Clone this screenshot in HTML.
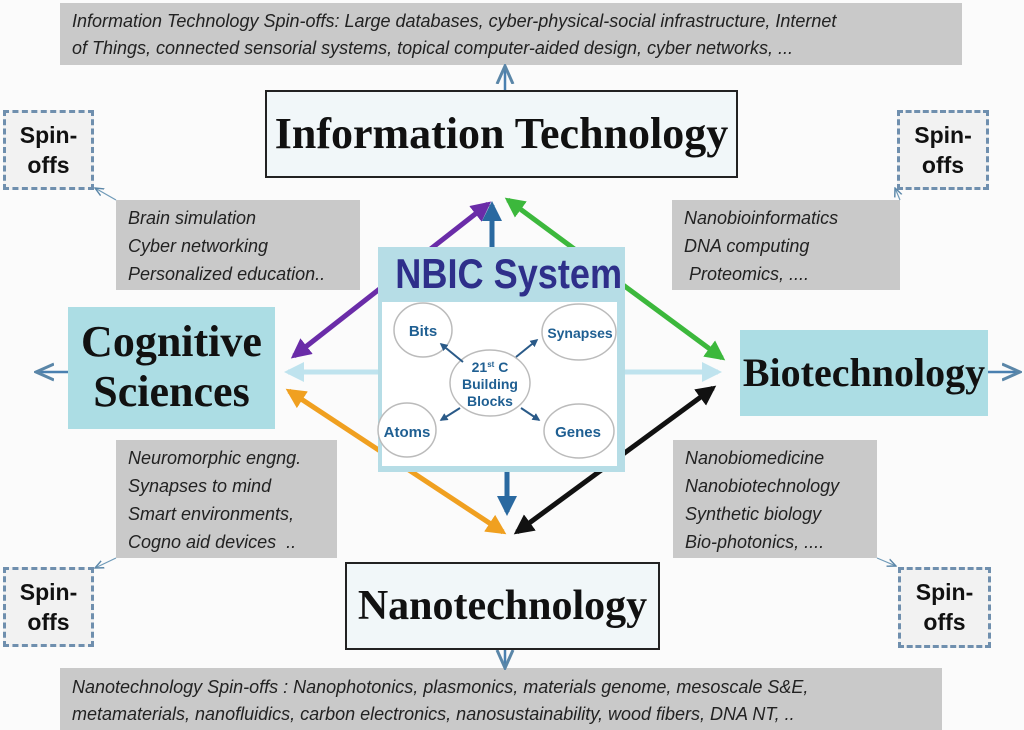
<!DOCTYPE html>
<html><head><meta charset="utf-8"><style>
body{margin:0;width:1024px;height:728px;background:#fbfbfb;position:relative;overflow:hidden;font-family:"Liberation Sans",sans-serif}
.a{position:absolute;box-sizing:border-box}
.g{background:#c9c9c9;font-style:italic;color:#222;font-size:18px;line-height:28px;padding:4px 0 0 12px}
.sp{border:3px dashed #6f8fae;background:#f2f2f2;font-weight:bold;font-size:23px;line-height:30px;text-align:center;padding-top:7px;color:#111}
.big{font-family:"Liberation Serif",serif;font-weight:bold;color:#111;text-align:center}
svg{position:absolute;left:0;top:0}
</style></head><body>
<svg width="1024" height="728" viewBox="0 0 1024 728">
<defs>
<marker id="m0" viewBox="0 0 10 10" refX="8" refY="5" markerWidth="4" markerHeight="4" orient="auto-start-reverse"><path d="M0,0L10,5L0,10z" fill="context-stroke"/></marker>
</defs>
<g fill="none" stroke-width="5" marker-start="url(#m0)" marker-end="url(#m0)">
<line x1="294" y1="356" x2="488" y2="204" stroke="#6a2ca8"/>
<line x1="508" y1="200" x2="722" y2="358" stroke="#3cb83c"/>
<line x1="289" y1="391" x2="503" y2="532" stroke="#f0a020"/>
<line x1="517" y1="532" x2="713" y2="388" stroke="#111"/>
</g>
</svg>
<div class="a g" style="left:60px;top:3px;width:902px;height:62px;line-height:27px;padding-top:5px">Information Technology Spin-offs: Large databases, cyber-physical-social infrastructure, Internet<br>of Things, connected sensorial systems, topical computer-aided design, cyber networks, ...</div>
<div class="a g" style="left:60px;top:668px;width:882px;height:62px;line-height:27px;padding-top:6px">Nanotechnology Spin-offs : Nanophotonics, plasmonics, materials genome, mesoscale S&amp;E,<br>metamaterials, nanofluidics, carbon electronics, nanosustainability, wood fibers, DNA NT, ..</div>
<div class="a big" style="left:265px;top:90px;width:473px;height:88px;border:2px solid #222;background:#f1f7f9;font-size:44px;line-height:84px">Information Technology</div>
<div class="a big" style="left:345px;top:562px;width:315px;height:88px;border:2px solid #222;background:#f1f7f9;font-size:42px;line-height:84px">Nanotechnology</div>
<div class="a big" style="left:68px;top:307px;width:207px;height:122px;background:#acdde4;font-size:44px;line-height:50px;padding-top:10px">Cognitive<br>Sciences</div>
<div class="a big" style="left:740px;top:330px;width:248px;height:86px;background:#acdde4;font-size:40px;line-height:86px">Biotechnology</div>
<div class="a sp" style="left:3px;top:110px;width:91px;height:80px">Spin-<br>offs</div>
<div class="a sp" style="left:897px;top:110px;width:92px;height:80px">Spin-<br>offs</div>
<div class="a sp" style="left:3px;top:567px;width:91px;height:80px">Spin-<br>offs</div>
<div class="a sp" style="left:898px;top:567px;width:93px;height:81px">Spin-<br>offs</div>
<div class="a g" style="left:116px;top:200px;width:244px;height:90px">Brain simulation<br>Cyber networking<br>Personalized education..</div>
<div class="a g" style="left:672px;top:200px;width:228px;height:90px">Nanobioinformatics<br>DNA computing<br>&nbsp;Proteomics, ....</div>
<div class="a g" style="left:116px;top:440px;width:221px;height:118px">Neuromorphic engng.<br>Synapses to mind<br>Smart environments,<br>Cogno aid devices &nbsp;..</div>
<div class="a g" style="left:673px;top:440px;width:204px;height:118px">Nanobiomedicine<br>Nanobiotechnology<br>Synthetic biology<br>Bio-photonics, ....</div>
<div class="a" style="left:378px;top:247px;width:247px;height:225px;background:#b6dde6"></div>
<div class="a" style="left:382px;top:302px;width:235px;height:164px;background:#fff"></div>
<div class="a" style="left:378px;top:248px;width:247px;text-align:center;white-space:nowrap;font-weight:bold;font-size:42px;color:#2e2f8a;line-height:52px;transform:scaleX(0.86);transform-origin:center">NBIC System</div>
<svg width="1024" height="728" viewBox="0 0 1024 728">
<defs>
<marker id="m" viewBox="0 0 10 10" refX="8" refY="5" markerWidth="4" markerHeight="4" orient="auto"><path d="M0,0L10,5L0,10z" fill="context-stroke"/></marker>
<marker id="t" viewBox="0 0 10 10" refX="9" refY="5" markerWidth="8" markerHeight="8" orient="auto"><path d="M0,1L9,5L0,9" fill="none" stroke="#5a86a8" stroke-width="1.5"/></marker>
</defs>
<g fill="none" stroke-width="5">
<line x1="378" y1="372" x2="288" y2="372" stroke="#bfe3ee" marker-end="url(#m)"/>
<line x1="625" y1="372" x2="718" y2="372" stroke="#bfe3ee" marker-end="url(#m)"/>
<line x1="492" y1="247" x2="492" y2="205" stroke="#2a69a0" marker-end="url(#m)"/>
<line x1="507" y1="472" x2="507" y2="512" stroke="#2a69a0" marker-end="url(#m)"/>
</g>
<g stroke="#4a80b0" stroke-width="2.5" fill="none" marker-end="url(#t)">
<line x1="505" y1="90" x2="505" y2="66"/>
<line x1="68" y1="372" x2="36" y2="372"/>
<line x1="988" y1="372" x2="1020" y2="372"/>
<line x1="505" y1="650" x2="505" y2="668"/>
</g>
<g stroke="#6f9ab8" stroke-width="1.2" fill="none" marker-end="url(#t)">
<line x1="116" y1="200" x2="95" y2="188"/>
<line x1="900" y1="200" x2="895" y2="188"/>
<line x1="116" y1="558" x2="95" y2="568"/>
<line x1="877" y1="558" x2="896" y2="566"/>
</g>
<g fill="#fff" stroke="#bbb" stroke-width="1.5">
<ellipse cx="423" cy="330" rx="29" ry="27"/>
<ellipse cx="579" cy="332" rx="37" ry="28"/>
<ellipse cx="490" cy="383" rx="40" ry="33"/>
<ellipse cx="407" cy="430" rx="29" ry="27"/>
<ellipse cx="579" cy="431" rx="35" ry="27"/>
</g>
<g stroke="#2a5a88" stroke-width="2" marker-end="url(#m)">
<line x1="463" y1="362" x2="441" y2="344"/>
<line x1="516" y1="357" x2="537" y2="340"/>
<line x1="460" y1="408" x2="441" y2="420"/>
<line x1="521" y1="408" x2="539" y2="420"/>
</g>
<g font-family="Liberation Sans,sans-serif" font-weight="bold" fill="#1f5f92" text-anchor="middle">
<text x="423" y="336" font-size="15">Bits</text>
<text x="580" y="338" font-size="14">Synapses</text>
<text x="407" y="437" font-size="15">Atoms</text>
<text x="578" y="437" font-size="15">Genes</text>
<text x="490" y="372" font-size="14">21<tspan font-size="8" dy="-5">st</tspan><tspan dy="5"> C</tspan></text>
<text x="490" y="389" font-size="14">Building</text>
<text x="490" y="406" font-size="14">Blocks</text>
</g>
</svg>
</body></html>
